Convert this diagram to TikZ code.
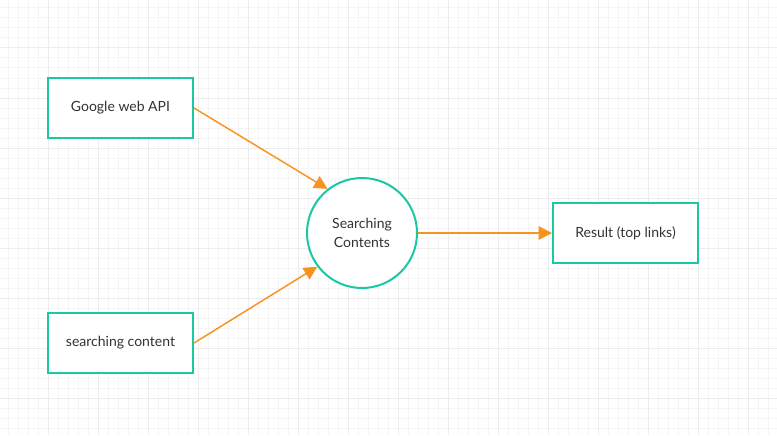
\documentclass[tikz,border=0pt]{standalone}
\usepackage{fontspec}
\setmainfont{Lato}
\usetikzlibrary{arrows.meta}
\definecolor{teal1}{HTML}{1CC8A4}
\definecolor{orng}{HTML}{F7931E}
\definecolor{txt}{HTML}{333333}
\definecolor{gridminor}{HTML}{F5F5F5}
\definecolor{gridmajor}{HTML}{ECECEC}
\tikzset{
  procbox/.style={draw=teal1, line width=1.5pt, minimum width=108.75pt, minimum height=45pt, inner sep=0pt, font=\fontsize{10.5pt}{14pt}\selectfont, text=txt, fill=white},
  proccirc/.style={circle, draw=teal1, line width=1.5pt, minimum size=82.5pt, inner sep=0pt, align=center, font=\fontsize{10.5pt}{14pt}\selectfont, text=txt, fill=white},
  flow/.style={draw=orng, line width=1.1pt, -{Triangle[length=10pt,width=10pt]}}
}
\begin{document}
\begin{tikzpicture}[x=0.75pt,y=-0.75pt]
\useasboundingbox (0,0) rectangle (777,435);
\fill[white] (0,0) rectangle (777,435);
\foreach \i in {0,...,77} {\draw[gridminor, line width=0.75pt] ({8+10*\i},0) -- ({8+10*\i},435);}
\foreach \j in {0,...,43} {\draw[gridminor, line width=0.75pt] (0,{8+10*\j}) -- (777,{8+10*\j});}
\foreach \i in {0,...,15} {\draw[gridmajor, line width=0.75pt] ({48+50*\i},0) -- ({48+50*\i},435);}
\foreach \j in {0,...,8} {\draw[gridmajor, line width=0.75pt] (0,{48+50*\j}) -- (777,{48+50*\j});}

\node[procbox] (g) at (120.5,108) {Google web API};
\node[procbox] (s) at (120.5,343) {searching content};
\node[proccirc] (c) at (362,233) {Searching\\Contents};
\node[procbox] (r) at (625.5,233) {Result (top links)};

\draw[flow] (g.east) -- (c.128);
\draw[flow] (s.east) -- (c.217);
\draw[flow] (c.east) -- (r.west);
\end{tikzpicture}
\end{document}
